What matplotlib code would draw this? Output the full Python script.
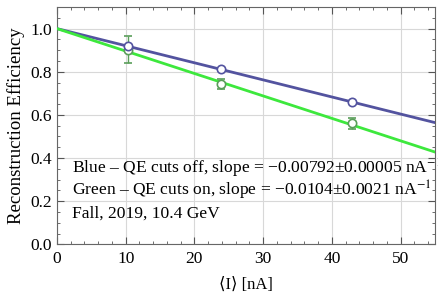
import numpy as np
import matplotlib.pyplot as plt
from matplotlib.ticker import MultipleLocator

plt.rcParams['font.family'] = ['Liberation Serif', 'DejaVu Serif']
plt.rcParams['mathtext.fontset'] = 'stix'

# measured points
current = [10.3, 23.9, 43.0]
eff_off = [0.918, 0.811, 0.662]
eff_on = [0.903, 0.744, 0.561]
err_on = [0.063, 0.024, 0.025]

# linear fits through (0, 1)
slope_off = -0.00792
slope_on = -0.0104

labels = ['Blue – QE cuts off, slope = −0.00792±0.00005 nA$^{-1}$',
          'Green – QE cuts on, slope = −0.0104±0.0021 nA$^{-1}$',
          'Fall, 2019, 10.4 GeV']

blue = '#53539f'
green = '#3de83d'
green_pt = '#5a9e5a'

fig = plt.figure(figsize=(4.38, 2.93), dpi=100)
ax = fig.add_axes([0.130, 0.166, 0.863, 0.810])

xx = np.array([0, 55])
ax.plot(xx, 1 + slope_off * xx, color=blue, lw=2, zorder=3)
ax.plot(xx, 1 + slope_on * xx, color=green, lw=2, zorder=3)

ax.errorbar(current, eff_on, yerr=err_on, fmt='o', mfc='white', mec=green_pt,
            ecolor=green_pt, ms=6, mew=1.2, capsize=3, elinewidth=1, zorder=4)
ax.plot(current, eff_off, 'o', mfc='white', mec=blue, ms=6, mew=1.2, zorder=5)

ax.set_xlim(0, 55)
ax.set_ylim(0, 1.1)
ax.xaxis.set_major_locator(MultipleLocator(10))
ax.xaxis.set_minor_locator(MultipleLocator(2))
ax.yaxis.set_major_locator(MultipleLocator(0.2))
ax.yaxis.set_minor_locator(MultipleLocator(0.05))
ax.yaxis.set_major_formatter(plt.FuncFormatter(lambda v, p: f'{v:.1f}'))
ax.tick_params(which='both', direction='in', top=True, right=True,
               color='#555555', labelsize=12.5)
ax.tick_params(axis='x', which='major', pad=5)
ax.tick_params(which='major', length=5)
ax.tick_params(which='minor', length=2.5)
ax.grid(True, which='major', color='#d8d8d8', lw=0.8, zorder=0)
for s in ax.spines.values():
    s.set_color('#666666')

ax.set_xlabel('⟨I⟩ [nA]', fontsize=12, labelpad=7)
ax.set_ylabel('Reconstruction Efficiency', fontsize=13.5, labelpad=4)

for i, lab in enumerate(labels):
    ax.text(2.2, 0.326 - 0.102 * i, lab, fontsize=12.6, va='baseline',
            ha='left', clip_on=False, zorder=6)

fig.savefig('out.png', dpi=100)
